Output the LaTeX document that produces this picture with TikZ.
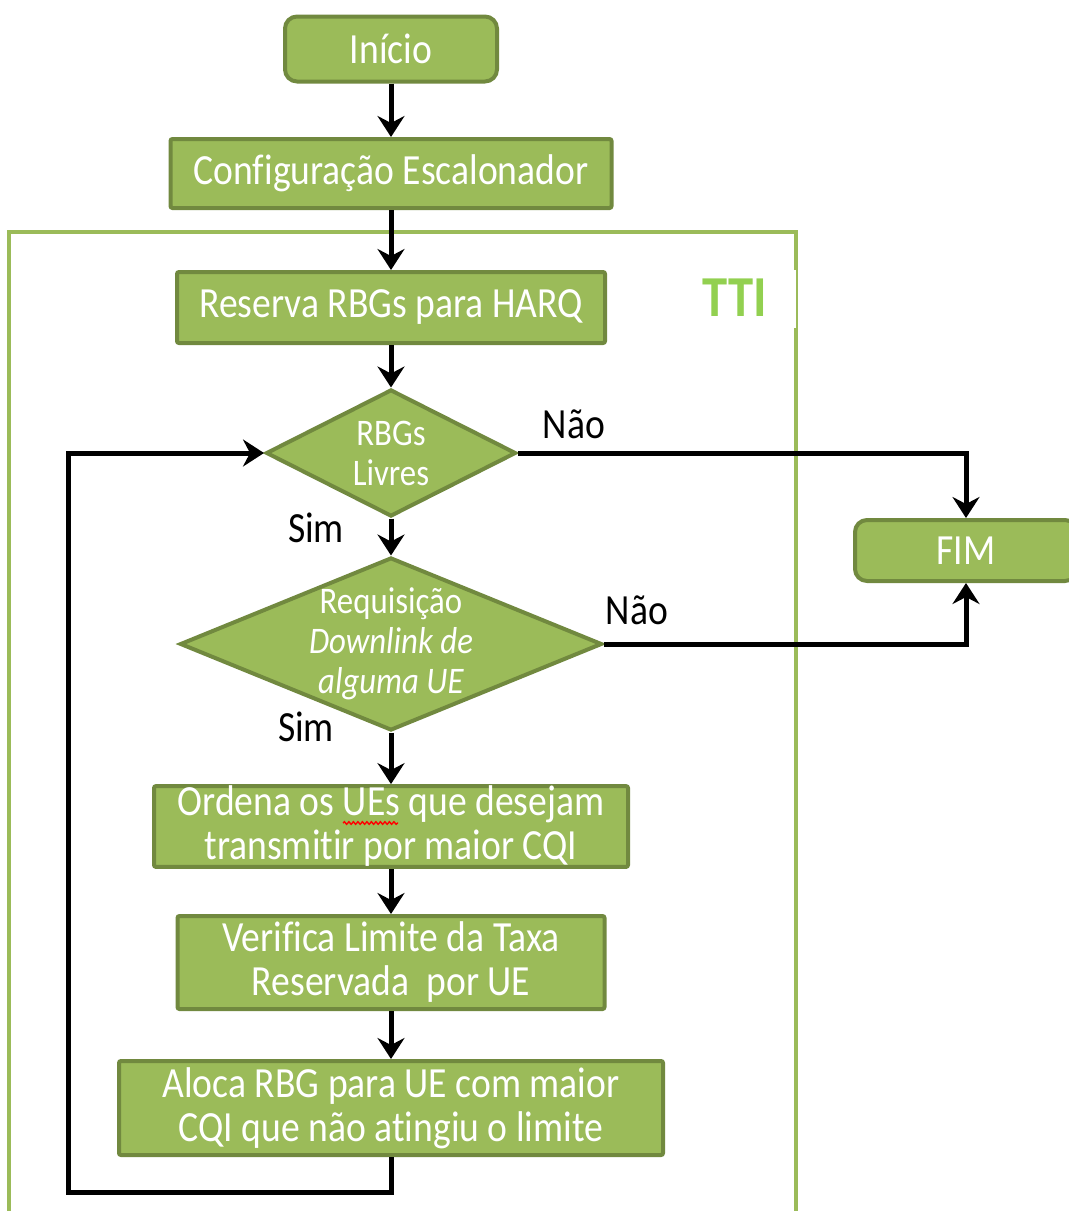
\documentclass[tikz,border=0pt]{standalone}
\usepackage{fontspec}
\setmainfont{Carlito}[FakeStretch=0.875, Ligatures=NoCommon]
\usetikzlibrary{shapes.geometric,arrows.meta,decorations.pathmorphing}

\begin{document}
\begin{tikzpicture}[x=1pt, y=-1pt, >={Stealth[length=21pt,width=27pt,inset=7pt]},
    caixa/.style={draw=bordaverde, fill=verdebox, line width=4pt, rounded corners=2pt,
        text=white, font=\fontsize{43}{44}\selectfont, align=center, inner sep=0pt},
    terminal/.style={caixa, rounded corners=12pt},
    decisao/.style={diamond, draw=bordaverde, fill=verdebox, line width=4pt, inner sep=0pt},
    textodec/.style={text=white, font=\fontsize{37.5}{40}\selectfont, align=center, inner sep=0pt},
    rotulo/.style={font=\fontsize{43}{44}\selectfont, inner sep=0pt},
    fluxo/.style={->, line width=5pt}]

    % Cores para igualar a imagem
    \definecolor{verdebox}{HTML}{9BBB59}
    \definecolor{bordaverde}{HTML}{71893F}
    \definecolor{ttiverde}{HTML}{92D050}

    \useasboundingbox (0,0) rectangle (1069,1211);

    % 1. Moldura do TTI
    \draw[verdebox, line width=4pt] (9,232) rectangle (796,1240);
    \fill[white] (790,270) rectangle (796,328);
    \node[text=ttiverde, font=\bfseries\fontsize{58}{58}\selectfont] (tti) at (735,298) {TTI};

    % 2. Blocos do fluxo
    \node[terminal, minimum width=212pt, minimum height=65pt] (inicio) at (391,49) {Início};
    \node[caixa, minimum width=441pt, minimum height=69pt] (config) at (391,173.5) {Configuração Escalonador};
    \node[caixa, minimum width=428pt, minimum height=71pt] (reserva) at (391,307.5) {Reserva RBGs para HARQ};

    % Decisões
    \node[decisao, minimum width=250pt, minimum height=127pt] (livres) at (391,453) {};
    \node[textodec] (livrestxt) at (livres) {RBGs\\Livres};
    \node[decisao, minimum width=422pt, minimum height=173pt] (req) at (391,644) {};
    \node[textodec] (reqtxt) at (req) {Requisição\\\textit{Downlink de}\\\textit{alguma UE}};

    \node[terminal, minimum width=222pt, minimum height=61pt] (fim) at (966,550.5) {FIM};

    \node[caixa, minimum width=474pt, minimum height=75pt] (ordena) at (391,826.5)
        {Ordena os UEs que desejam\\transmitir por maior CQI};
    \node[caixa, minimum width=427pt, minimum height=93pt] (verifica) at (391,962.5)
        {Verifica Limite da Taxa\\Reservada\ \ por UE};
    \node[caixa, minimum width=544pt, minimum height=94pt] (aloca) at (391,1108)
        {Aloca RBG para UE com maior\\CQI que não atingiu o limite};

    % sublinhado do corretor em "UEs"
    \draw[red, line width=1.4pt, decorate, decoration={snake, amplitude=1.3pt, segment length=4.5pt}]
        (343,823) -- (398,823);

    % 3. Setas
    \draw[fluxo] (inicio) -- (config);
    \draw[fluxo] (config) -- (reserva);
    \draw[fluxo] (reserva) -- (livres);
    \draw[fluxo] (livres) -- (req);
    \draw[fluxo] (req) -- (ordena);
    \draw[fluxo] (ordena) -- (verifica);
    \draw[fluxo] (verifica) -- (aloca);

    % Retorno para RBGs Livres
    \coordinate (retorno) at (68,1192);
    \draw[fluxo] (aloca.south) |- (retorno) |- (livres.west);

    % Saídas para FIM
    \draw[fluxo] (livres.east) -| (fim.north);
    \draw[fluxo] (req.east) -| (fim.south);

    % 4. Rótulos
    \node[rotulo] (nao1) at (574,424) {Não};
    \node[rotulo] (sim1) at (316,528) {Sim};
    \node[rotulo] (nao2) at (637,610) {Não};
    \node[rotulo] (sim2) at (306,727) {Sim};

\end{tikzpicture}
\end{document}
